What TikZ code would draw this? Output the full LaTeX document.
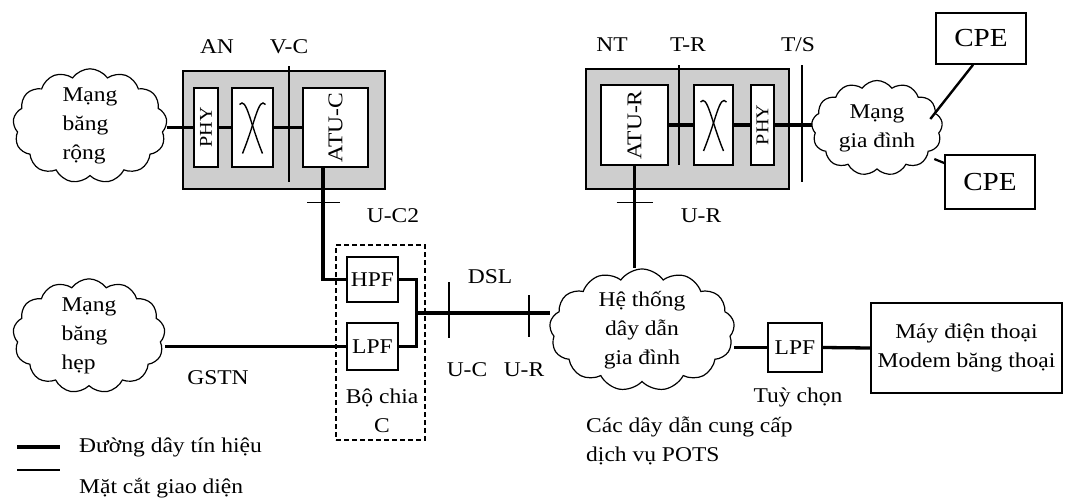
\documentclass[tikz,border=0pt]{standalone}
\usepackage{fontspec}
\setmainfont{Liberation Serif}[FakeStretch=1.12]
\usepackage{tikz}
\usetikzlibrary{arrows.meta,positioning,calc,shapes.symbols}
\definecolor{stipple}{RGB}{206,206,206}

\tikzset{
  shadebox/.style={draw, line width=2pt, fill=stipple},
  unitbox/.style={draw, line width=1.6pt, fill=white, inner sep=0pt},
  filterbox/.style={draw, line width=1.6pt, fill=white, inner sep=0pt, minimum width=51pt},
  sigline/.style={line width=3.3pt},
  cutline/.style={line width=1.1pt},
  netcloud/.style={draw, cloud, cloud puffs=13, cloud puff arc=110, cloud ignores aspect, line width=1.2pt, align=left, inner sep=0pt},
  lbl/.style={inner sep=1pt}
}
% two crossing strokes of a switch block
\newcommand{\crossmark}[1]{%
  \draw[line width=1.4pt] ($(#1.center)+(-13,-23)$) .. controls ($(#1.center)+(-6,-31)$) and ($(#1.center)+(-3,-6)$) .. ($(#1.center)+(10,26)$);
  \draw[line width=1.4pt] ($(#1.center)+(13,-23)$) .. controls ($(#1.center)+(6,-31)$) and ($(#1.center)+(3,-6)$) .. ($(#1.center)+(-10,26)$);
}

\begin{document}
\begin{tikzpicture}[x=1pt, y=-1pt, >=Latex, font=\fontsize{21}{29}\selectfont]
  \useasboundingbox (0,0) rectangle (1068,498);

  % access node
  \node[shadebox, minimum width=202pt, minimum height=118pt] (an) at (284,130) {};
  \node[unitbox, minimum width=24pt, minimum height=79pt] (phyA) at (206,127.5) {};
  \node[rotate=90, font=\fontsize{18}{20}\selectfont] at (phyA) {PHY};
  \node[unitbox, minimum width=41pt, minimum height=79pt] (swA) at (252.5,127.5) {};
  \crossmark{swA}
  \node[unitbox, minimum width=65pt, minimum height=79pt] (atuc) at (335.5,127.5) {};
  \node[rotate=90] at (atuc) {ATU-C};
  \node[lbl] (anlbl) at (217,47) {AN};
  \node[lbl] (vclbl) at (289,47) {V-C};

  % network termination
  \node[shadebox, minimum width=203pt, minimum height=120pt] (nt) at (687.5,129) {};
  \node[unitbox, minimum width=67pt, minimum height=80pt] (atur) at (634.5,125) {};
  \node[rotate=90] at (atur) {ATU-R};
  \node[unitbox, minimum width=39pt, minimum height=80pt] (swB) at (713.5,125) {};
  \crossmark{swB}
  \node[unitbox, minimum width=23pt, minimum height=80pt] (phyB) at (762.5,125) {};
  \node[rotate=90, font=\fontsize{18}{20}\selectfont] at (phyB) {PHY};
  \node[lbl] (ntlbl) at (612,45) {NT};
  \node[lbl] (trlbl) at (688,45) {T-R};
  \node[lbl] (tslbl) at (798,45) {T/S};

  % clouds
  \node[netcloud, minimum width=154pt, minimum height=98pt] (wide) at (90,126) {Mạng\\băng\\rộng};
  \node[netcloud, minimum width=152pt, minimum height=93pt] (narrow) at (89,336) {Mạng\\băng\\hẹp};
  \node[netcloud, align=center, minimum width=131pt, minimum height=95pt] (home) at (877,128) {Mạng\\gia đình};
  \node[netcloud, align=center, minimum width=185pt, minimum height=116pt] (wiring) at (642,330) {Hệ thống\\dây dẫn\\gia đình};

  % customer equipment
  \node[draw, line width=1.7pt, minimum width=90pt, minimum height=51pt, font=\fontsize{26}{28}\selectfont] (cpeA) at (981,38.5) {CPE};
  \node[draw, line width=1.7pt, minimum width=90pt, minimum height=54pt, font=\fontsize{26}{28}\selectfont] (cpeB) at (990,182) {CPE};

  % splitter
  \node[draw, dash pattern=on 5pt off 3pt, line width=1.4pt, minimum width=89pt, minimum height=195pt] (split) at (380.5,342.5) {};
  \node[filterbox, minimum height=45pt] (hpf) at (372.5,279.5) {HPF};
  \node[filterbox, minimum height=47pt] (lpf) at (372.5,346.5) {LPF};
  \node[lbl, align=center] (splbl) at (382,411) {Bộ chia\\C};

  % optional filter and telephone
  \node[filterbox, minimum width=54pt, minimum height=49pt] (lpfB) at (795,347.5) {LPF};
  \node[draw, line width=1.7pt, minimum width=191pt, minimum height=90pt, align=center] (phone) at (966.5,348) {Máy điện thoại\\Modem băng thoại};
  \node[lbl] (optlbl) at (798,397) {Tuỳ chọn};

  % signal lines
  \draw[sigline] (wide.east |- phyA.west) -- (phyA.west);
  \draw[sigline] (phyA.east) -- (swA.west);
  \draw[sigline] (swA.east) -- (swA.east -| atuc.west);
  \draw[sigline] (atur.east |- swB.west) -- (swB.west);
  \draw[sigline] (swB.east) -- (phyB.west);
  \draw[sigline] (phyB.east) -- (phyB.east -| home.west);
  \draw[line width=2.4pt] (cpeA.south) ++(-8,0) coordinate (cpeAfoot) -- ($(home.east)+(-12,-9)$) coordinate (homeA);
  \draw[line width=2.2pt] (cpeB.west) ++(0,-19) coordinate (cpeBfoot) -- ($(home.east)+(-8,31)$) coordinate (homeB);
  \coordinate (atucfoot) at ($(atuc.south)+(-12.5,0)$);
  \draw[sigline] (atucfoot) |- (hpf.west);
  \draw[sigline] (hpf.east) -- ++(18,0) coordinate (hpfout) |- (lpf.east);
  \coordinate (jn) at ($(hpfout)!0.5!(hpfout |- lpf.east)$);
  \draw[sigline] (jn) -- (jn -| wiring.west);
  \draw[sigline] (lpf.west) -- (lpf.west -| narrow.east);
  \draw[sigline] (atur.south) -- (atur.south |- wiring.north);
  \draw[sigline] (lpfB.west -| wiring.east) -- (lpfB.west);
  \draw[sigline] (lpfB.east) -- (phone.west);

  % interface cuts
  \draw[cutline] (289,66) -- (289,182);
  \draw[cutline] (679,65) -- (679,165);
  \draw[cutline] (802,65) -- (802,182);
  \draw[cutline] ($(atucfoot)+(0,35)$) ++(-16,0) -- ++(33,0);
  \draw[cutline] ($(atur.south)+(0,37)$) ++(-18,0) -- ++(36,0);
  \draw[cutline] (449,282) -- (449,338);
  \draw[cutline] (529,295) -- (529,337);

  % labels
  \node[lbl] (uc2lbl) at (393,216) {U-C2};
  \node[lbl] (urtop) at (701,216) {U-R};
  \node[lbl] (dsllbl) at (490,277) {DSL};
  \node[lbl] (uclbl) at (467,370) {U-C};
  \node[lbl] (urlbl) at (524,370) {U-R};
  \node[lbl] (gstnlbl) at (218,378) {GSTN};
  \node[lbl, anchor=west, align=left] (potslbl) at (585,441) {Các dây dẫn cung cấp\\dịch vụ POTS};

  % legend
  \draw[sigline] (17,447) -- (60,447) coordinate (legA);
  \draw[cutline] (17,470) -- (60,470) coordinate (legB);
  \node[lbl, anchor=west] at ($(legA)+(18,0)$) {Đường dây tín hiệu};
  \node[lbl, anchor=west] at ($(legB)+(18,18)$) {Mặt cắt giao diện};
\end{tikzpicture}
\end{document}
